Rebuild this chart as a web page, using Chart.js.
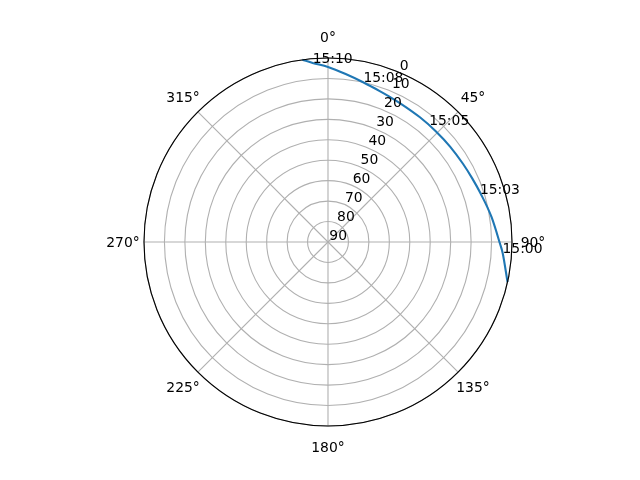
<!DOCTYPE html>
<html>
<head>
<meta charset="utf-8">
<script src="https://cdn.jsdelivr.net/npm/chart.js@4/dist/chart.umd.min.js"></script>
<style>
html,body{margin:0;padding:0;background:#fff;}
#c{display:block;}
</style>
</head>
<body>
<canvas id="c" width="640" height="480"></canvas>
<script>
// Track of the pass: azimuth (deg, clockwise from North) and elevation (deg)
const trackAz = [102.6, 93.6, 90.5, 81.3, 72.3, 66.2, 59.9, 52.1, 44.2, 36.4, 27.5, 22.9, 19.1, 12.4, 6.0, 0.0, -4.9, -8.0];
const trackEl = [0.0, 4.4, 5.9, 9.1, 11.7, 12.9, 13.7, 14.2, 14.4, 14.2, 13.5, 12.8, 12.0, 10.0, 7.4, 4.4, 2.1, 0.0];
// Time annotations
const timeLabels = ['15:00', '15:03', '15:05', '15:08', '15:10'];
const timeAz = [93.6, 72.3, 40.9, 12.5, -4.9];
const timeEl = [4.5, 12.0, 14.4, 10.0, 2.2];
// Axis ticks
const angleTicks = [0, 45, 90, 135, 180, 225, 270, 315];
const angleTickLabels = ['0°', '45°', '90°', '135°', '180°', '225°', '270°', '315°'];
const radialTicks = [0, 10, 20, 30, 40, 50, 60, 70, 80, 90];
const radialTickLabels = ['0', '10', '20', '30', '40', '50', '60', '70', '80', '90'];
const radialLabelAz = 22.5;

const RMAX = 90;
function toXY(az, el) {
  const r = RMAX - el;
  const a = az * Math.PI / 180;
  return { x: r * Math.sin(a), y: r * Math.cos(a) };
}
const lineData = trackAz.map((az, i) => toXY(az, trackEl[i]));
const timeData = timeAz.map((az, i) => toXY(az, timeEl[i]));

const FONT = '13.9px "DejaVu Sans"';

const polarPlugin = {
  id: 'polarGrid',
  beforeDatasetsDraw(chart) {
    const ctx = chart.ctx;
    const xs = chart.scales.x, ys = chart.scales.y;
    const cx = xs.getPixelForValue(0), cy = ys.getPixelForValue(0);
    const pr = v => xs.getPixelForValue(RMAX - v) - cx;
    ctx.save();
    ctx.strokeStyle = '#b0b0b0';
    ctx.lineWidth = 1.1;
    radialTicks.forEach(v => {
      const r = pr(v);
      if (r <= 0) return;
      ctx.beginPath();
      ctx.arc(cx, cy, r, 0, Math.PI * 2);
      ctx.stroke();
    });
    angleTicks.forEach(a => {
      const p = toXY(a, 0);
      ctx.beginPath();
      ctx.moveTo(cx, cy);
      ctx.lineTo(xs.getPixelForValue(p.x), ys.getPixelForValue(p.y));
      ctx.stroke();
    });
    ctx.restore();
  },
  afterDatasetsDraw(chart) {
    const ctx = chart.ctx;
    const xs = chart.scales.x, ys = chart.scales.y;
    const cx = xs.getPixelForValue(0), cy = ys.getPixelForValue(0);
    const R = xs.getPixelForValue(RMAX) - cx;
    ctx.save();
    // spine
    ctx.strokeStyle = '#000';
    ctx.lineWidth = 1.1;
    ctx.beginPath();
    ctx.arc(cx, cy, R, 0, Math.PI * 2);
    ctx.stroke();
    ctx.fillStyle = '#000';
    ctx.font = FONT;
    // angle labels
    ctx.textAlign = 'center';
    ctx.textBaseline = 'alphabetic';
    const labR = R + 21;
    angleTicks.forEach((a, i) => {
      const rad = a * Math.PI / 180;
      const x = cx + labR * Math.sin(rad);
      const y = cy - labR * Math.cos(rad);
      ctx.fillText(angleTickLabels[i], x, y + 5);
    });
    // radial labels
    ctx.textAlign = 'left';
    radialTicks.forEach((v, i) => {
      const p = toXY(radialLabelAz, v);
      const x = xs.getPixelForValue(p.x), y = ys.getPixelForValue(p.y);
      ctx.fillText(radialTickLabels[i], x + 1.3, y - 2.4);
    });
    // time annotations
    timeData.forEach((p, i) => {
      ctx.fillText(timeLabels[i], xs.getPixelForValue(p.x), ys.getPixelForValue(p.y));
    });
    ctx.restore();
  }
};

new Chart(document.getElementById('c'), {
  type: 'scatter',
  data: {
    datasets: [{
      data: lineData,
      showLine: true,
      borderColor: '#1f77b4',
      backgroundColor: '#1f77b4',
      borderWidth: 2.1,
      pointRadius: 0,
      tension: 0.4,
      cubicInterpolationMode: 'monotone'
    }]
  },
  options: {
    responsive: false,
    animation: false,
    devicePixelRatio: 1,
    layout: { padding: { left: 144, right: 128, top: 58, bottom: 54 } },
    plugins: { legend: { display: false }, tooltip: { enabled: false } },
    scales: {
      x: { type: 'linear', min: -RMAX, max: RMAX, display: false },
      y: { type: 'linear', min: -RMAX, max: RMAX, display: false }
    }
  },
  plugins: [polarPlugin]
});
</script>
</body>
</html>
